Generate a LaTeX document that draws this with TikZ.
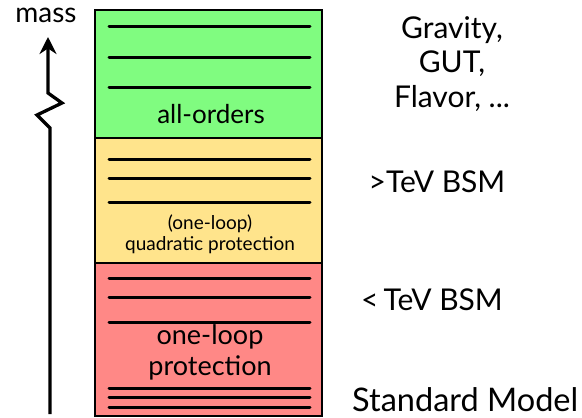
\documentclass[tikz,border=0pt]{standalone}
\usepackage{fontspec}
\setmainfont{Lato}
\usepackage{tikz}
\usetikzlibrary{positioning,arrows.meta}
\definecolor{mygreen}{RGB}{128,252,128}
\definecolor{myyellow}{RGB}{255,228,140}
\definecolor{myred}{RGB}{255,136,134}

\begin{document}
\begin{tikzpicture}[x=1pt,y=-1pt,
	every node/.style={inner sep=0pt,text=black},
	regionbox/.style={draw=black,line width=1.8pt},
	level/.style={line width=3pt,line cap=round},
	boxlabel/.style={font=\fontsize{26}{31}\selectfont,align=center},
	smalllabel/.style={font=\fontsize{19}{21}\selectfont,align=center},
	sidelabel/.style={font=\fontsize{30}{34.5}\selectfont,align=center},
	]
	\useasboundingbox (0,0) rectangle (582,418);
	
	% the three regions
	\filldraw[regionbox,fill=mygreen] (95,10) rectangle (322,138);
	\filldraw[regionbox,fill=myyellow] (95,138) rectangle (322,263);
	\filldraw[regionbox,fill=myred] (95,263) rectangle (322,416);
	
	% levels in each region
	\foreach \y in {26,57,87}
	\draw[level] (109,\y) -- (310,\y);
	\foreach \y in {159,178,202}
	\draw[level] (109,\y) -- (310,\y);
	\foreach \y in {278,297,322,388,397,407}
	\draw[level] (109,\y) -- (310,\y);
	
	% labels inside
	\node[boxlabel] (allorders) at (211,114) {all-orders};
	\node[smalllabel] (quadratic) at (210,234) {(one-loop)\\quadratic protection};
	\node[boxlabel,font=\fontsize{27}{31}\selectfont] (oneloop) at (210,352) {one-loop\\protection};
	
	% mass axis
	\node[font=\fontsize{28}{30}\selectfont] (mass) at (46,15) {mass};
	\coordinate (axbot) at (50,414);
	\coordinate (zz1) at (50,128);
	\coordinate (zz2) at (37,115);
	\coordinate (zz3) at (62,103);
	\coordinate (zz4) at (48,93);
	\coordinate (axtop) at (48,37);
	\draw[line width=3.3pt,line join=miter,-{Stealth[length=17pt,width=17pt]}]
	(axbot) -- (zz1) -- (zz2) -- (zz3) -- (zz4) -- (axtop);
	
	% physics on the right
	\node[sidelabel] (gravity) at (452,64) {Gravity,\\GUT,\\Flavor, ...};
	\node[sidelabel] (abovetev) at (437,182) {>TeV BSM};
	\node[sidelabel] (belowtev) at (432,300) {<\,TeV BSM};
	\node[sidelabel,font=\fontsize{32.5}{36}\selectfont,anchor=base west] (sm) at (352,411) {Standard Model};
	
\end{tikzpicture}
\end{document}
